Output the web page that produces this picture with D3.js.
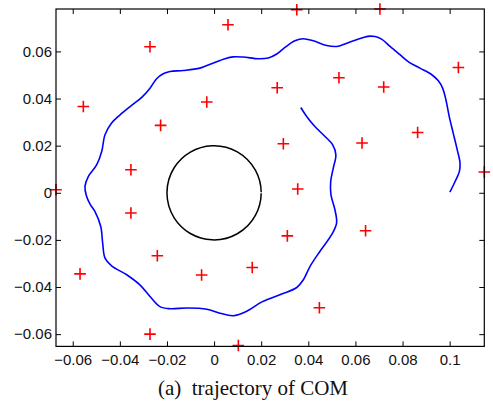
<!DOCTYPE html>
<html><head><meta charset="utf-8">
<script src="https://cdn.jsdelivr.net/npm/d3@7"></script>
<style>html,body{margin:0;padding:0;background:#fff;}</style>
</head><body>
<svg id="chart" width="493" height="408"></svg>
<script>
// ---- data ----
const xTicks = [-0.06, -0.04, -0.02, 0, 0.02, 0.04, 0.06, 0.08, 0.1];
const xTickLabels = ["\u22120.06", "\u22120.04", "\u22120.02", "0", "0.02", "0.04", "0.06", "0.08", "0.1"];
const yTicks = [-0.06, -0.04, -0.02, 0, 0.02, 0.04, 0.06];
const yTickLabels = ["\u22120.06", "\u22120.04", "\u22120.02", "0", "0.02", "0.04", "0.06"];
const xDomain = [-0.0671, 0.1147];
const yDomain = [-0.0652, 0.0780];

const markerX = [0.0059, -0.0272, -0.0555, -0.0031, -0.0227, -0.0353, -0.0671, 0.0351, 0.0704, 0.1037,
  0.0530, 0.0268, 0.0720, 0.0864, 0.0294, 0.0628, 0.1147, 0.0355, -0.0353, -0.0241,
  -0.0569, -0.0053, -0.0272, 0.0103, 0.0643, 0.0311, 0.0162, 0.0447];
const markerY = [0.0713, 0.0620, 0.0366, 0.0385, 0.0286, 0.0098, 0.0013, 0.0777, 0.0780, 0.0532,
  0.0488, 0.0446, 0.0449, 0.0256, 0.0208, 0.0211, 0.0088, 0.0016, -0.0086, -0.0267,
  -0.0344, -0.0349, -0.0600, -0.0648, -0.0161, -0.0183, -0.0317, -0.0488];

const trajX = [0.1001, 0.1023, 0.1041, 0.1044, 0.1032, 0.1015, 0.0998, 0.0984, 0.0970, 0.0952,
  0.0924, 0.0874, 0.0824, 0.0789, 0.0747, 0.0711, 0.0683, 0.0653, 0.0633, 0.0577,
  0.0520, 0.0478, 0.0421, 0.0379, 0.0343, 0.0301, 0.0266, 0.0230, 0.0188, 0.0124,
  0.0081, 0.0046, -0.0003, -0.0060, -0.0131, -0.0187, -0.0216, -0.0244, -0.0272, -0.0307,
  -0.0350, -0.0399, -0.0435, -0.0463, -0.0477, -0.0498, -0.0534, -0.0548, -0.0542, -0.0527,
  -0.0506, -0.0481, -0.0473, -0.0463, -0.0435, -0.0371, -0.0315, -0.0272, -0.0230, -0.0187,
  -0.0116, -0.0031, 0.0025, 0.0081, 0.0142, 0.0203, 0.0287, 0.0351, 0.0379, 0.0407,
  0.0449, 0.0499, 0.0520, 0.0513, 0.0496, 0.0495, 0.0506, 0.0517, 0.0503, 0.0471,
  0.0428, 0.0393, 0.0368];
const trajY = [0.0003, 0.0048, 0.0090, 0.0126, 0.0183, 0.0253, 0.0324, 0.0395, 0.0444, 0.0475,
  0.0501, 0.0529, 0.0557, 0.0586, 0.0621, 0.0652, 0.0663, 0.0664, 0.0659, 0.0640,
  0.0621, 0.0625, 0.0645, 0.0654, 0.0645, 0.0617, 0.0589, 0.0572, 0.0569, 0.0576,
  0.0577, 0.0569, 0.0551, 0.0529, 0.0519, 0.0515, 0.0505, 0.0484, 0.0444, 0.0405,
  0.0371, 0.0331, 0.0296, 0.0246, 0.0175, 0.0119, 0.0069, 0.0027, -0.0013, -0.0047,
  -0.0079, -0.0143, -0.0213, -0.0277, -0.0310, -0.0348, -0.0391, -0.0440, -0.0483, -0.0492,
  -0.0489, -0.0494, -0.0511, -0.0522, -0.0501, -0.0463, -0.0430, -0.0402, -0.0369, -0.0313,
  -0.0249, -0.0178, -0.0129, -0.0072, -0.0008, 0.0048, 0.0105, 0.0161, 0.0204, 0.0239,
  0.0281, 0.0324, 0.0362];

const circleCenter = [0, 0];
const circleRadius = [0.02];
const caption = "(a)\u00a0 trajectory of COM";

// ---- layout ----
const svg = d3.select("#chart");
const mLeft = 56, mRight = 484.3, mTop = 9, mBottom = 346.4;
const x = d3.scaleLinear().domain(xDomain).range([mLeft, mRight]);
const y = d3.scaleLinear().domain(yDomain).range([mBottom, mTop]);
const tickFont = "'Liberation Sans', Arial, sans-serif";

// trajectory
const line = d3.line().x(d => x(d[0])).y(d => y(d[1])).curve(d3.curveCatmullRom.alpha(0.5));
svg.append("path")
  .attr("d", line(trajX.map((v, i) => [v, trajY[i]])))
  .attr("fill", "none").attr("stroke", "#0000ff").attr("stroke-width", 1.6)
  .attr("stroke-linejoin", "round").attr("stroke-linecap", "butt");

// circle
const cx = x(circleCenter[0]), cy = y(circleCenter[1]);
const rr = x(circleRadius[0]) - x(0);
const gap = 0.012;
const p = d3.path();
p.arc(cx, cy, rr, gap, 2 * Math.PI - gap);
svg.append("path").attr("d", p.toString())
  .attr("fill", "none").attr("stroke", "#000").attr("stroke-width", 1.5);

// markers
svg.append("g").selectAll("path").data(markerX.map((v, i) => [v, markerY[i]])).join("path")
  .attr("transform", d => `translate(${x(d[0])},${y(d[1])})`)
  .attr("d", "M-5.8,0H5.8M0,-5.8V5.8")
  .attr("stroke", "#ff0000").attr("stroke-width", 1.6).attr("fill", "none");

// axes
const tl = 5;
const axB = svg.append("g").attr("transform", `translate(0,${mBottom})`)
  .call(d3.axisBottom(x).tickValues(xTicks).tickFormat((d, i) => xTickLabels[i]).tickSizeInner(-tl).tickSizeOuter(0).tickPadding(8));
const axT = svg.append("g").attr("transform", `translate(0,${mTop})`)
  .call(d3.axisTop(x).tickValues(xTicks).tickFormat("").tickSizeInner(-tl).tickSizeOuter(0));
const axL = svg.append("g").attr("transform", `translate(${mLeft},0)`)
  .call(d3.axisLeft(y).tickValues(yTicks).tickFormat((d, i) => yTickLabels[i]).tickSizeInner(-tl).tickSizeOuter(0).tickPadding(4));
const axR = svg.append("g").attr("transform", `translate(${mRight},0)`)
  .call(d3.axisRight(y).tickValues(yTicks).tickFormat("").tickSizeInner(-tl).tickSizeOuter(0));
[axB, axT, axL, axR].forEach(a => {
  a.select(".domain").remove();
  a.selectAll("line").attr("stroke", "#000").attr("stroke-width", 1);
  a.selectAll("text").attr("fill", "#111").style("font-family", tickFont).style("font-size", "15px");
});
svg.append("rect").attr("x", mLeft).attr("y", mTop).attr("width", mRight - mLeft).attr("height", mBottom - mTop)
  .attr("fill", "none").attr("stroke", "#000").attr("stroke-width", 1.2);

// caption
svg.append("text").attr("x", 253).attr("y", 395)
  .attr("text-anchor", "middle")
  .style("font-family", "'Liberation Serif', 'Times New Roman', serif").style("font-size", "21px")
  .attr("fill", "#111").text(caption);
</script>
</body></html>
